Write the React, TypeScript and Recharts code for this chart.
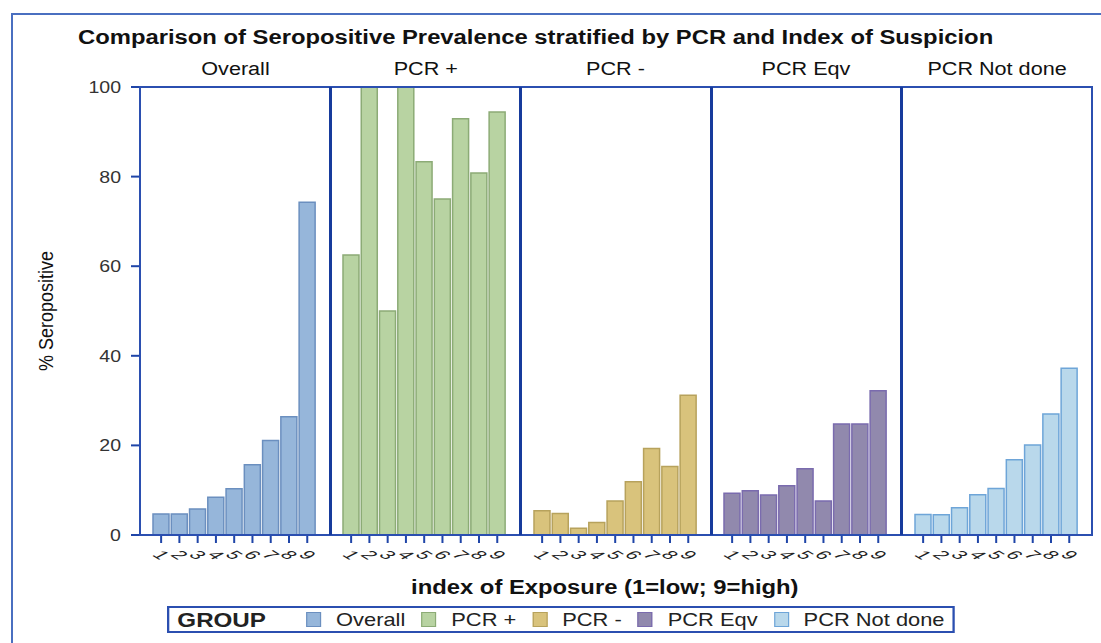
import { BarChart, Bar, XAxis, YAxis } from "recharts";

const categories = ["1", "2", "3", "4", "5", "6", "7", "8", "9"];
const groups = ["Overall", "PCR +", "PCR -", "PCR Eqv", "PCR Not done"];

const overall = [4.7, 4.7, 5.8, 8.4, 10.3, 15.7, 21.1, 26.4, 74.3];
const pcrPos = [62.5, 100, 50, 100, 83.3, 75, 92.9, 80.8, 94.4];
const pcrNeg = [5.4, 4.8, 1.5, 2.8, 7.6, 11.9, 19.3, 15.3, 31.2];
const pcrEqv = [9.3, 9.9, 8.9, 11.0, 14.8, 7.6, 24.8, 24.8, 32.2];
const pcrNotDone = [4.6, 4.5, 6.1, 9.0, 10.4, 16.8, 20.1, 27.0, 37.2];

const yTicks = [0, 20, 40, 60, 80, 100];

const fills = ["#96b6da", "#b8d3a2", "#d9c37c", "#9189ad", "#b9d8eb"];
const strokes = ["#6b8fbf", "#8cab76", "#b7a25c", "#7a6bae", "#6ea5d8"];

const seriesValues = [overall, pcrPos, pcrNeg, pcrEqv, pcrNotDone];

const FONT = "'Liberation Sans', Arial, sans-serif";
const STRETCH = 1.15;
const AXIS_BLUE = "#1f45a8";

const PLOT_LEFT = 140;
const PANEL_W = 190.4;
const PLOT_TOP = 87;
const PLOT_BOTTOM = 535;
const CHART_H = 580;

function Wide({ children, scale = STRETCH, origin = "center" }: { children: any; scale?: number; origin?: string }) {
  return (
    <span style={{ display: "inline-block", transform: `scaleX(${scale})`, transformOrigin: origin }}>
      {children}
    </span>
  );
}

const XTick = (props: any) => {
  const { x, y, payload } = props;
  return (
    <text
      transform={`translate(${x},${y + 10}) scale(1.3,0.72) rotate(48)`}
      textAnchor="middle"
      dominantBaseline="central"
      fontSize={17}
      fontFamily={FONT}
      fill="#222"
    >
      {payload.value}
    </text>
  );
};

const YTick = (props: any) => {
  const { x, y, payload } = props;
  return (
    <text
      transform={`translate(${x},${y}) scale(${STRETCH},1)`}
      textAnchor="end"
      dominantBaseline="central"
      fontSize={17}
      fontFamily={FONT}
      fill="#333"
    >
      {payload.value}
    </text>
  );
};

const YLabel = (props: any) => {
  const { viewBox } = props;
  const cy = viewBox.y + viewBox.height / 2;
  return (
    <text
      transform={`translate(46,${cy}) rotate(-90) scale(1,${STRETCH})`}
      textAnchor="middle"
      dominantBaseline="central"
      fontSize={18}
      fontFamily={FONT}
      fill="#111"
    >
      % Seropositive
    </text>
  );
};

function Panel({ index }: { index: number }) {
  const first = index === 0;
  const data = categories.map((c, i) => ({ idx: c, value: seriesValues[index][i] }));
  const left = first ? 0 : PLOT_LEFT + index * PANEL_W;
  const width = first ? PLOT_LEFT + PANEL_W : PANEL_W;
  return (
    <div style={{ position: "absolute", left, top: 0 }}>
      <BarChart
        width={width}
        height={CHART_H}
        data={data}
        margin={{ top: PLOT_TOP, right: 0, bottom: 0, left: 0 }}
        barCategoryGap={1}
      >
        <XAxis
          dataKey="idx"
          interval={0}
          height={CHART_H - PLOT_BOTTOM}
          axisLine={false}
          tickLine={{ stroke: AXIS_BLUE, strokeWidth: 2 }}
          tickSize={8}
          tick={<XTick />}
          padding={{ left: 12, right: 14 }}
        />
        <YAxis
          hide={!first}
          width={PLOT_LEFT}
          domain={[0, 100]}
          ticks={yTicks}
          axisLine={false}
          tickLine={{ stroke: AXIS_BLUE, strokeWidth: 2 }}
          tickSize={9}
          tickMargin={10}
          tick={<YTick />}
          label={<YLabel />}
        />
        <Bar
          dataKey="value"
          fill={fills[index]}
          stroke={strokes[index]}
          strokeWidth={1.5}
          isAnimationActive={false}
        />
      </BarChart>
    </div>
  );
}

export default function App() {
  const dividers = [1, 2, 3, 4];
  return (
    <div style={{ position: "relative", width: 1101, height: 643, background: "#fff", overflow: "hidden", fontFamily: FONT }}>
      <style>{"body{margin:0}"}</style>
      {/* outer figure frame */}
      <div style={{ position: "absolute", left: 11, top: 13, width: 1101, height: 640, borderLeft: "2px solid #4a6fc0", borderTop: "2px solid #4a6fc0" }} />

      <div style={{ position: "absolute", left: 78, top: 26, fontSize: 20, fontWeight: "bold", color: "#111", whiteSpace: "nowrap" }}>
        <Wide scale={1.19} origin="left">Comparison of Seropositive Prevalence stratified by PCR and Index of Suspicion</Wide>
      </div>

      {groups.map((g, i) => (
        <div
          key={g}
          style={{ position: "absolute", left: PLOT_LEFT + i * PANEL_W, width: PANEL_W, top: 59, textAlign: "center", fontSize: 18, color: "#111", whiteSpace: "nowrap" }}
        >
          <Wide scale={1.2}>{g}</Wide>
        </div>
      ))}

      {groups.map((g, i) => (
        <Panel key={g} index={i} />
      ))}

      {/* panel frame */}
      <div style={{ position: "absolute", left: PLOT_LEFT - 1, top: PLOT_TOP - 1, width: 5 * PANEL_W + 2, height: PLOT_BOTTOM - PLOT_TOP + 2, border: "2px solid #2b4fb0", boxSizing: "border-box", pointerEvents: "none" }} />
      {dividers.map((d) => (
        <div key={d} style={{ position: "absolute", left: PLOT_LEFT + d * PANEL_W - 1.5, top: PLOT_TOP, width: 3, height: PLOT_BOTTOM - PLOT_TOP, background: "#173b9c" }} />
      ))}

      <div style={{ position: "absolute", left: 0, width: 1210, top: 576, textAlign: "center", fontSize: 20, fontWeight: "bold", color: "#111", whiteSpace: "nowrap" }}>
        <Wide scale={1.19}>index of Exposure (1=low; 9=high)</Wide>
      </div>

      {/* legend */}
      <div
        style={{
          position: "absolute",
          left: 167,
          top: 606,
          width: 788 / STRETCH,
          height: 27,
          border: "2px solid #2b4fb0",
          boxSizing: "border-box",
          transform: `scaleX(${STRETCH})`,
          transformOrigin: "left top",
          display: "flex",
          alignItems: "center",
          whiteSpace: "nowrap",
          fontSize: 19,
          color: "#222",
        }}
      >
        <span style={{ fontWeight: "bold", fontSize: 21, marginLeft: 7, marginRight: 35 }}>GROUP</span>
        {groups.map((g, i) => (
          <span key={g} style={{ display: "flex", alignItems: "center", marginRight: 14 }}>
            <span style={{ width: 13, height: 15, background: fills[i], border: `1px solid ${strokes[i]}`, boxSizing: "border-box", marginRight: 13 }} />
            {g}
          </span>
        ))}
      </div>
    </div>
  );
}
